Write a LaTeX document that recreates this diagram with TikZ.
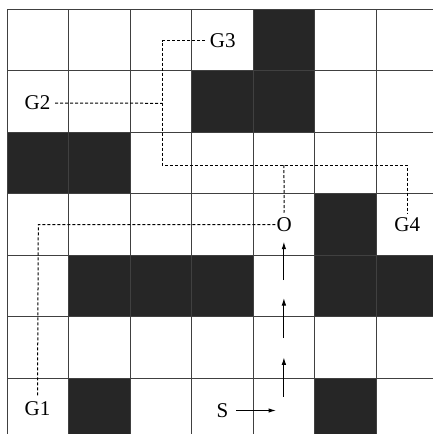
\documentclass[tikz,border=0pt]{standalone}
\usepackage{fontspec}
\setmainfont{Liberation Serif}
\usetikzlibrary{arrows.meta}
\definecolor{cellfill}{HTML}{262626}
\begin{document}
\begin{tikzpicture}[x=1pt,y=-1pt,
  gridline/.style={draw=black!75,line width=0.9pt},
  blockcell/.style={fill=cellfill},
  lbl/.style={inner sep=4.5pt,font=\fontsize{21}{24}\selectfont},
  dl/.style={draw=black,line width=1pt,dash pattern=on 3pt off 2pt},
  mv/.style={draw=black,line width=1pt,-{Latex[length=7.5pt,width=4.5pt]}}]
\useasboundingbox (0,0) rectangle (433,434);
\fill[white] (0,0) rectangle (433,434);
\begin{scope}
\clip (0,0) rectangle (433,434);
% black cells (col,row) from top-left
\foreach \c/\r in {4/0, 3/1, 4/1, 0/2, 1/2, 5/3, 1/4, 2/4, 3/4, 5/4, 6/4, 1/6, 5/6}{
  \fill[blockcell] ({7+61.5*\c},{9+61.5*\r}) rectangle ++(61.5,61.5);
}
\foreach \i in {0,...,6}{
  \draw[gridline] ({7+61.5*\i},9) -- ({7+61.5*\i},440);
  \draw[gridline] (7,{9+61.5*\i}) -- (440,{9+61.5*\i});
}
\end{scope}
% labels
\node[lbl] (G3) at (222.75,40.5) {G3};
\node[lbl] (G2) at (37.5,103) {G2};
\node[lbl,inner xsep=1pt] (O) at (284.2,224.5) {O};
\node[lbl] (G4) at (407.3,224.5) {G4};
\node[lbl] (G1) at (37.5,409) {G1};
\node[lbl] (S) at (222.5,410.5) {S};
% dashed route coordinates
\coordinate (A) at (162.3,40.5);
\coordinate (B) at (162.3,103.3);
\coordinate (C) at (162.3,165);
\coordinate (D) at (283.9,165);
\coordinate (E) at (407.3,165);
\coordinate (F) at (38.3,224.5);
\draw[dl] (G3.west) -- (A) -- (C) -- (E) -- (G4.north);
\draw[dl] (G2.east) -- (B);
\draw[dl] (D) -- (O.north);
\draw[dl] (O.west) -- (F) -- (G1.north);
% movement arrows
\coordinate (sa) at (276,410.5);
\coordinate (a1s) at (283.9,396.7);
\coordinate (a1e) at (283.9,357.3);
\coordinate (a2s) at (283.9,338);
\coordinate (a2e) at (283.9,298);
\coordinate (a3s) at (283.9,280);
\coordinate (a3e) at (283.9,241.7);
\draw[mv,shorten <=3pt] (S.east) -- (sa);
\draw[mv] (a1s) -- (a1e);
\draw[mv] (a2s) -- (a2e);
\draw[mv] (a3s) -- (a3e);
\end{tikzpicture}
\end{document}
